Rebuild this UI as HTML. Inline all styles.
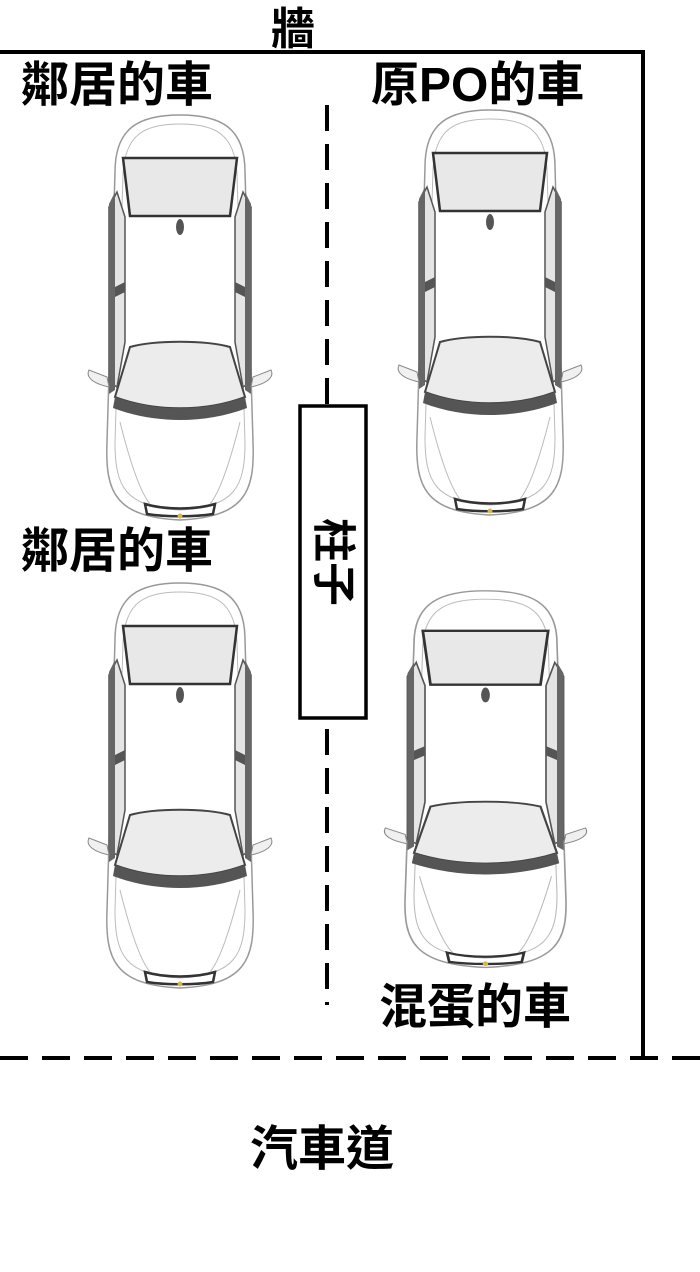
<!DOCTYPE html>
<html><head><meta charset="utf-8"><style>
html,body{margin:0;padding:0;background:#fff}
body{width:700px;height:1272px;position:relative;overflow:hidden;font-family:"Liberation Sans","Noto Sans CJK TC",sans-serif}
.t{position:absolute;font-weight:bold;color:#000;white-space:nowrap;line-height:1}
</style></head><body>
<svg width="700" height="1272" style="position:absolute;left:0;top:0">
<defs>
<g id="car">
 <path d="M20,60 C20,15 45,3 85,3 C125,3 150,15 150,60 L158,330 C160,380 150,405 85,408 C20,405 10,380 12,330 Z" fill="#fff" stroke="#999" stroke-width="1.5"/>
 <path d="M28,62 C30,22 50,12 85,12 C120,12 140,22 142,62 L150,330 C150,375 140,395 85,398 C30,395 20,375 20,330 Z" fill="none" stroke="#bbb" stroke-width="1"/>
 <path d="M28,46 L142,46 L135,104 L35,104 Z" fill="#e8e8e8" stroke="#333" stroke-width="2.5"/>
 <path d="M35,235 C60,228 110,228 135,235 L150,285 C110,300 60,300 20,285 Z" fill="#ececec" stroke="#444" stroke-width="2"/>
 <path d="M20,285 C60,300 110,300 150,285 L152,296 C110,312 60,312 18,296 Z" fill="#555"/>
 <path d="M22,80 L14,95 L14,270 L22,275 L30,230 L30,105 Z" fill="#e5e5e5" stroke="#555" stroke-width="1.5"/>
 <path d="M148,80 L156,95 L156,270 L148,275 L140,230 L140,105 Z" fill="#e5e5e5" stroke="#555" stroke-width="1.5"/>
 <path d="M14,178 L30,170 L30,180 L14,188 Z" fill="#555"/>
 <path d="M156,178 L140,170 L140,180 L156,188 Z" fill="#555"/>
 <path d="M14,92 L20,80 L20,278 L14,282 Z" fill="#666"/>
 <path d="M156,92 L150,80 L150,278 L156,282 Z" fill="#666"/>
 <path d="M12,265 L-6,258 C-10,266 0,272 14,275 Z" fill="#f0f0f0" stroke="#888"/>
 <path d="M158,265 L176,258 C180,266 170,272 156,275 Z" fill="#f0f0f0" stroke="#888"/>
 <ellipse cx="85" cy="115" rx="4" ry="8" fill="#555"/>
 <path d="M50,392 C70,398 100,398 120,392 L118,402 C100,405 70,405 52,402 Z" fill="none" stroke="#333" stroke-width="2.5"/>
 <circle cx="85" cy="404" r="2.5" fill="#d8b84a"/>
 <path d="M25,310 C35,350 45,380 55,392 M145,310 C135,350 125,380 115,392" fill="none" stroke="#bbb"/>
</g>
</defs>
<use href="#car" x="95" y="112"/>
<use href="#car" x="405" y="107"/>
<use href="#car" x="95" y="580"/>
<use href="#car" transform="translate(392,588) scale(1.1,0.93)"/>
<path d="M0,52 L643,52 L643,1058" fill="none" stroke="#000" stroke-width="4"/>
<line x1="0" y1="1058" x2="700" y2="1058" stroke="#000" stroke-width="4" stroke-dasharray="28,14"/>
<line x1="327" y1="105" x2="327" y2="1005" stroke="#000" stroke-width="4" stroke-dasharray="26,13"/>
<rect x="300" y="406" width="66" height="312" fill="#fff" stroke="#000" stroke-width="3.5"/>
<text x="0" y="0" transform="translate(333,562) rotate(90)" text-anchor="middle" dominant-baseline="central" font-size="44" font-weight="bold" font-family="Liberation Sans,Noto Sans CJK TC,sans-serif">柱子</text>
</svg>
<div class="t" style="left:271px;top:8px;font-size:44px">牆</div>
<div class="t" style="left:21px;top:62px;font-size:48px">鄰居的車</div>
<div class="t" style="left:371px;top:62px;font-size:48px">原PO的車</div>
<div class="t" style="left:21px;top:528px;font-size:48px">鄰居的車</div>
<div class="t" style="left:379px;top:984px;font-size:48px">混蛋的車</div>
<div class="t" style="left:250px;top:1126px;font-size:48px">汽車道</div>
</body></html>
